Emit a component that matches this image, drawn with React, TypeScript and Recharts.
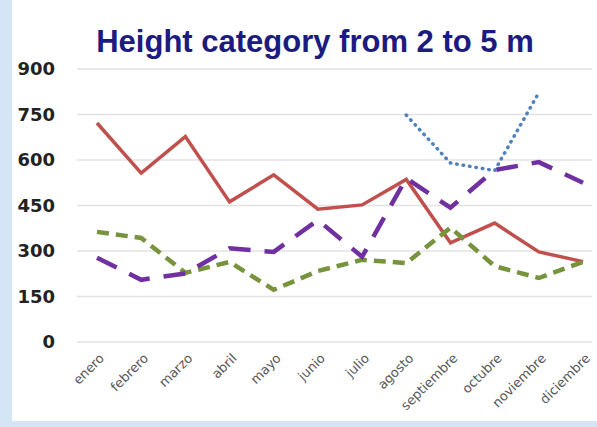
import { CartesianGrid, Line, LineChart, XAxis, YAxis } from "recharts";

const meses = [
  "enero",
  "febrero",
  "marzo",
  "abril",
  "mayo",
  "junio",
  "julio",
  "agosto",
  "septiembre",
  "octubre",
  "noviembre",
  "diciembre",
];

const serieRoja = [722, 557, 677, 462, 551, 438, 452, 536, 327, 392, 297, 265];
const serieVerde = [363, 343, 228, 264, 172, 234, 271, 260, 377, 250, 211, 264];
const serieMorada = [278, 205, 226, 309, 297, 402, 281, 540, 443, 567, 593, 525];
const serieAzul: (number | null)[] = [null, null, null, null, null, null, null, 748, 590, 565, 822, null];

const yTicks = [0, 150, 300, 450, 600, 750, 900];

const data = meses.map((mes, i) => ({
  mes,
  roja: serieRoja[i],
  verde: serieVerde[i],
  morada: serieMorada[i],
  azul: serieAzul[i],
}));

function MesTick({ x, y, payload }: any) {
  const tx = x + 8;
  const ty = y + 9;
  return (
    <text
      x={tx}
      y={ty}
      textAnchor="end"
      fontSize={13}
      fontFamily="DejaVu Sans"
      fill="#5a5a5a"
      transform={`rotate(-45, ${tx}, ${ty})`}
    >
      {payload.value}
    </text>
  );
}

export default function App() {
  return (
    <div style={{ position: "relative", width: 597, height: 427, background: "#d4e6f6" }}>
      <style>{`body{margin:0}`}</style>
      <div style={{ position: "absolute", left: 12, top: 0, width: 585, height: 421, background: "#ffffff" }} />
      <div
        style={{
          position: "absolute",
          left: 0,
          top: 24,
          width: 630,
          textAlign: "center",
          fontFamily: "Liberation Sans",
          fontWeight: "bold",
          fontSize: 31,
          color: "#1b1b80",
        }}
      >
        Height category from 2 to 5 m
      </div>
      <div style={{ position: "absolute", left: 0, top: 0 }}>
        <LineChart width={597} height={427} data={data} margin={{ top: 69, right: 5, left: 0, bottom: 0 }}>
          <CartesianGrid vertical={false} stroke="#e3e3e3" strokeWidth={1.5} />
          <XAxis
            dataKey="mes"
            interval={0}
            height={85}
            axisLine={false}
            tickLine={false}
            tick={<MesTick />}
            padding={{ left: 20, right: 9 }}
          />
          <YAxis
            width={77}
            domain={[0, 900]}
            ticks={yTicks}
            axisLine={false}
            tickLine={false}
            tickMargin={16}
            tick={{ fontSize: 18, fontWeight: "bold", fontFamily: "DejaVu Sans", fill: "#222" }}
          />
          <Line
            dataKey="roja"
            stroke="#c0504d"
            strokeWidth={3.5}
            dot={false}
            isAnimationActive={false}
          />
          <Line
            dataKey="verde"
            stroke="#77933c"
            strokeWidth={4.5}
            strokeDasharray="12 7"
            dot={false}
            isAnimationActive={false}
          />
          <Line
            dataKey="morada"
            stroke="#7030a0"
            strokeWidth={4.5}
            strokeDasharray="22 14"
            dot={false}
            isAnimationActive={false}
          />
          <Line
            dataKey="azul"
            stroke="#4f81bd"
            strokeWidth={3.5}
            strokeDasharray="0.5 6"
            strokeLinecap="round"
            dot={false}
            isAnimationActive={false}
          />
        </LineChart>
      </div>
    </div>
  );
}
